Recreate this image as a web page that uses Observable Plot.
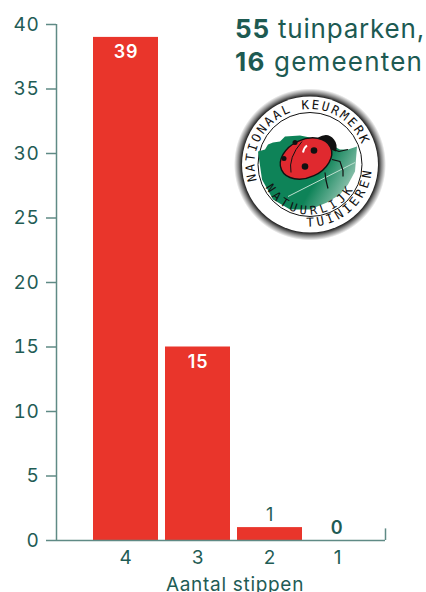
<!DOCTYPE html>
<html><head><meta charset="utf-8">
<script src="https://cdn.jsdelivr.net/npm/d3@7"></script>
<script src="https://cdn.jsdelivr.net/npm/@observablehq/plot@0.6"></script>
<style>
html,body{margin:0;padding:0;background:#fff;overflow:hidden}
#c{position:relative;width:426px;height:592px;overflow:hidden}
#c svg{position:absolute;left:0;top:0}
#c>svg:first-child text{letter-spacing:.7px}
.h{position:absolute;left:235px;color:#1d5a52;font:26px/1 Inter,sans-serif;white-space:nowrap}
.h b{font-weight:700}
</style></head><body><div id="c"></div>
<script>
const stippen=["4","3","2","1"];
const parken=[39,15,1,0];
const yTicks=[0,5,10,15,20,25,30,35,40];
const ink="#1f5c55", axisInk="#5f8a85", red="#e9352b";
const font="Inter,sans-serif";
const data=stippen.map((s,i)=>({s,v:parken[i]}));
const chart=Plot.plot({
  width:426,height:592,marginLeft:56,marginRight:41,marginTop:24,marginBottom:52,
  style:{fontFamily:font,background:"#fff"},
  x:{domain:stippen,range:[89.5,377.5],paddingInner:0.1,paddingOuter:0.05,label:null,axis:null},
  y:{domain:[0,40],label:null,axis:null},
  marks:[
    Plot.barY(data,{x:"s",y:"v",fill:red}),
    Plot.ruleX(["1"],{x:d=>d,y1:0,y2:0.9,dx:43.5,stroke:axisInk,strokeWidth:1.5}),
    Plot.ruleX(["4"],{x:d=>d,y1:0,y2:40,dx:-69.5,stroke:axisInk,strokeWidth:1.5}),
    Plot.ruleY([0],{stroke:axisInk,strokeWidth:1.5}),
    Plot.axisY({ticks:yTicks,tickSize:10,tickPadding:7,stroke:axisInk,fill:ink,fontSize:19,strokeWidth:1.5,tickFormat:d=>d,marginLeft:56,label:null}),
    Plot.text(stippen.slice(0,3),{x:d=>d,y:()=>0,text:d=>d,dy:17,fill:ink,fontSize:19}),
    Plot.text(stippen.slice(3),{x:d=>d,y:()=>0,text:d=>d,dy:17,dx:-4,fill:ink,fontSize:19}),
    Plot.text(data.filter(d=>d.v>=15),{x:"s",y:"v",text:d=>String(d.v),dy:15,fill:"#fff",fontSize:18,fontWeight:600}),
    Plot.text(data.filter(d=>d.v===1),{x:"s",y:"v",text:d=>String(d.v),dy:-12,fill:ink,fontSize:18}),
    Plot.text(data.filter(d=>d.v===0),{x:"s",y:"v",text:d=>String(d.v),dy:-12,dx:-5,fill:ink,fontSize:18,fontWeight:600}),
    Plot.text(["Aantal stippen"],{text:d=>d,x:()=>"2",y:()=>0,dy:44,dx:-35,fill:ink,fontSize:19})
  ]
});
const c=document.getElementById("c");
c.appendChild(chart);
for(const [n,t,y,ls] of [["55"," tuinparken,",15.5,0.8],["16"," gemeenten",48.5,1.2]]){
  const d=document.createElement("div");d.className="h";d.style.top=y+"px";d.style.letterSpacing=ls+"px";
  const b=document.createElement("b");b.textContent=n;d.append(b,t);c.appendChild(d);
}
// logo
const logo=d3.select(c).append("svg").attr("width",426).attr("height",592).style("pointer-events","none");
const defs=logo.append("defs");
const rg=defs.append("radialGradient").attr("id","halo");
rg.append("stop").attr("offset","0.89").attr("stop-color","#111");
rg.append("stop").attr("offset","0.94").attr("stop-color","#888");
rg.append("stop").attr("offset","1").attr("stop-color","#fff");
const lg=defs.append("linearGradient").attr("id","leaf").attr("x1",0.3).attr("y1",0.4).attr("x2",1).attr("y2",0.7);
lg.append("stop").attr("offset","0.45").attr("stop-color","#0e8358");
lg.append("stop").attr("offset","1").attr("stop-color","#a9cfc0");
const g=logo.append("g").attr("transform","translate(310,164.5)");
g.append("circle").attr("r",76).attr("fill","url(#halo)");
g.append("circle").attr("r",68).attr("fill","#fff");
g.append("circle").attr("r",52).attr("fill","#fff").attr("stroke","#111").attr("stroke-width",1);
g.append("path").attr("fill","url(#leaf)").attr("d","M-52,-13 L-45,-15 L-42,-20 L-37,-22 L-30,-23 L-25,-28 L-10,-29 L10,-25 L30,-15 L38,-15 L47,-18 L45,7 L38,20 L30,30 L17,38 L0,45 L-20,45 L-37,35 L-48,15 Z");
g.append("path").attr("d","M-22,32 L45,-2").attr("stroke","#bfe0d0").attr("stroke-width",1).attr("fill","none");
g.append("path").attr("d","M8,-27 q10,-6 16,2 q4,5 2,12 l-10,-4 z").attr("fill","#111");
g.append("path").attr("d","M22,-5 l8,2 l3,9 l0,6 M15,8 l1,8 l2,8 M23,-15 l6,2 l9,-2").attr("stroke","#111").attr("stroke-width",1.2).attr("fill","none");
g.append("ellipse").attr("cx",-4).attr("cy",-6).attr("rx",27).attr("ry",19).attr("transform","rotate(-25 -4 -6)").attr("fill","#e0292f").attr("stroke","#111").attr("stroke-width",1.4);
g.selectAll("circle.s").data([[4,-14,3.3],[-5,2,3.3],[-26,-6,2.5],[-15,-22,2.5]]).join("circle").attr("cx",d=>d[0]).attr("cy",d=>d[1]).attr("r",d=>d[2]).attr("fill","#111");
g.append("path").attr("d","M-8,-23 q-14,16 -11,31").attr("stroke","#111").attr("stroke-width",1).attr("fill","none");
g.append("path").attr("d","M-3,-19 q-3,2 -4,7").attr("stroke","#fff").attr("stroke-width",2).attr("fill","none");
const rad=d=>d*Math.PI/180;
const arc=(id,r,a0,a1,sweep)=>{const p=a=>[r*Math.sin(rad(a)),-r*Math.cos(rad(a))];const s=p(a0),e=p(a1);
  defs.append("path").attr("id",id).attr("d",`M${s} A${r},${r} 0 ${Math.abs(a1-a0)>180?1:0} ${sweep} ${e}`);};
arc("t1",55.5,-107,80,1);
arc("t2",50,243,100,0);
arc("t3",62,183,80,0);
const tx=(id,s,size,ls)=>g.append("text").attr("font-family","'DejaVu Sans Mono',monospace").attr("font-size",size).attr("fill","#111").style("letter-spacing",ls+"px").append("textPath").attr("href","#"+id).text(s);
tx("t1","NATIONAAL KEURMERK",12.5,2);
tx("t2","NATUURLIJK",12,3.8);
tx("t3","TUINIEREN",12.5,3.2);
</script></body></html>
